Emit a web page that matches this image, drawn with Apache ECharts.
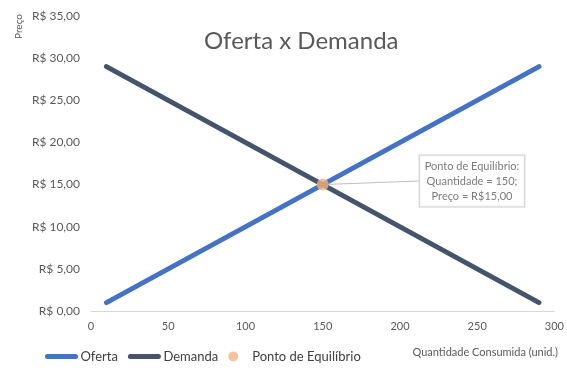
<!DOCTYPE html>
<html>
<head>
<meta charset="utf-8">
<script src="https://cdn.jsdelivr.net/npm/echarts@6/dist/echarts.min.js"></script>
<style>
html, body { margin: 0; padding: 0; background: #fff; }
#chart { width: 567px; height: 378px; }
</style>
</head>
<body>
<div id="chart"></div>
<script>
var quantidade = [10, 150, 290];
var oferta = [1, 15, 29];
var demanda = [29, 15, 1];
var equilibrio = [150, 15];
var rotuloEquilibrio = 'Ponto de Equilíbrio:\nQuantidade = 150;\nPreço = R$15,00';

var fonte = 'Lato, "Open Sans", sans-serif';
var cinza = '#595959';

function pares(xs, ys) {
    var out = [];
    for (var i = 0; i < xs.length; i++) out.push([xs[i], ys[i]]);
    return out;
}

var myChart = echarts.init(document.getElementById('chart'));
var option = {
    animation: false,
    textStyle: { fontFamily: fonte },
    title: [
        {
            text: 'Oferta x Demanda',
            left: 199,
            top: 24,
            textStyle: { fontSize: 24, fontWeight: 'normal', color: cinza, fontFamily: fonte }
        },
        {
            text: 'Quantidade Consumida (unid.)',
            right: 4,
            top: 342,
            textStyle: { fontSize: 11, fontWeight: 'normal', color: cinza, fontFamily: fonte }
        }
    ],
    graphic: [
        {
            type: 'text',
            left: 14,
            top: 14,
            rotation: Math.PI / 2,
            style: { text: 'Preço', fontSize: 10, fill: cinza, fontFamily: fonte }
        }
    ],
    grid: { left: 91, right: 12, top: 16, bottom: 67 },
    legend: {
        left: 40,
        top: 345,
        itemWidth: 28,
        itemHeight: 10,
        itemGap: 10,
        textStyle: { fontSize: 13, color: '#404040', fontFamily: fonte },
        data: [
            { name: 'Oferta', itemStyle: { opacity: 0 }, lineStyle: { width: 5, color: '#4472C4', cap: 'round' } },
            { name: 'Demanda', itemStyle: { opacity: 0 }, lineStyle: { width: 5, color: '#44546A', cap: 'round' } },
            'Ponto de Equilíbrio'
        ]
    },
    xAxis: {
        type: 'value',
        min: 0,
        max: 300,
        interval: 50,
        axisLine: { show: true, lineStyle: { color: '#d9d9d9', width: 1 } },
        axisTick: { show: false },
        splitLine: { show: false },
        axisLabel: { color: cinza, fontSize: 11, margin: 10 }
    },
    yAxis: {
        type: 'value',
        min: 0,
        max: 35,
        interval: 5,
        axisLine: { show: false },
        axisTick: { show: false },
        splitLine: { show: false },
        axisLabel: {
            color: cinza,
            fontSize: 12,
            margin: 11,
            formatter: function (v) { return 'R$ ' + v.toFixed(2).replace('.', ','); }
        }
    },
    series: [
        {
            name: 'Oferta',
            type: 'line',
            data: pares(quantidade, oferta),
            symbol: 'none',
            lineStyle: { color: '#4472C4', width: 5, cap: 'round' },
            itemStyle: { color: '#4472C4' }
        },
        {
            name: 'Demanda',
            type: 'line',
            data: pares(quantidade, demanda),
            symbol: 'none',
            lineStyle: { color: '#44546A', width: 5, cap: 'round' },
            itemStyle: { color: '#44546A' }
        },
        {
            name: 'Ponto de Equilíbrio',
            type: 'scatter',
            data: [equilibrio],
            symbolSize: 12,
            itemStyle: { color: '#F4B183' },
            z: 5,
            label: {
                show: true,
                formatter: rotuloEquilibrio,
                color: cinza,
                fontSize: 11,
                lineHeight: 15,
                align: 'center',
                verticalAlign: 'middle',
                backgroundColor: '#fff',
                borderColor: '#bfbfbf',
                borderWidth: 1,
                padding: [3, 5]
            },
            labelLine: { show: true, lineStyle: { color: '#bfbfbf', width: 1 } },
            labelLayout: { x: 472, y: 181 }
        }
    ]
};
myChart.setOption(option);
</script>
</body>
</html>
